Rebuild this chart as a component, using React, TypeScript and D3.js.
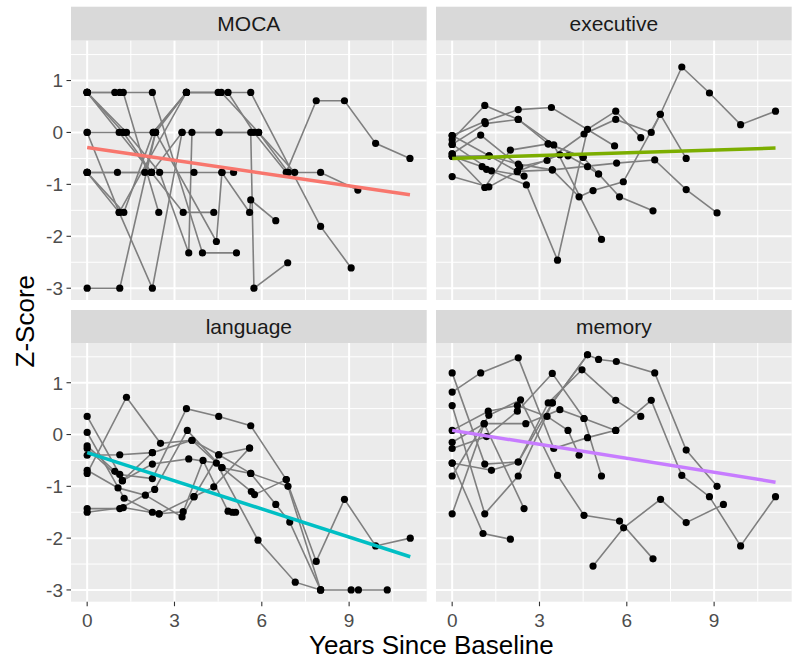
import React from "react";
import * as d3 from "d3";

type Pt = [number, number];

const facets = ["MOCA", "executive", "language", "memory"];
const fitColors = ["#F8766D", "#7CAE00", "#00BFC4", "#C77CFF"];
// fitted line value at first and last visit, per facet
const fitStart = [-0.29, -0.5, -0.35, 0.08];
const fitEnd = [-1.2, -0.3, -2.36, -0.92];
const xTicks = [0, 3, 6, 9];
const yTicks = [-3, -2, -1, 0, 1];

// [years since baseline, z-score] per subject
const mocaSubjects: Pt[][] = [
  [[0, -3], [1.12, -3], [2.35, 0], [3.41, 0.77], [4.5, 0.77], [5.62, 0.77], [8.02, -1.81], [9.07, -2.61]],
  [[0, 0.77], [0.95, 0.77], [1.12, 0.77], [2.24, 0.77], [3.96, -2.32], [5.13, -2.32]],
  [[0, 0.77], [1.1, 0], [2.21, -0.77], [3.3, -1.54], [4.35, -1.54]],
  [[0, 0.77], [1.24, 0.77], [2.46, -1.54]],
  [[0, 0.77], [1.35, 0], [2.49, -0.77], [3.49, -2.32], [3.6, 0], [4.53, 0], [5.62, 0], [5.73, -3], [6.89, -2.51]],
  [[0, 0], [1.1, -1.54], [2.24, -3], [3.26, 0]],
  [[0, -0.77], [1.26, -1.54], [2.27, 0], [3.41, 0.77]],
  [[0, -0.77], [1.04, -0.77], [1.98, -0.77], [2.35, 0], [4.44, -2.1], [4.63, -0.77], [5.03, -0.77]],
  [[0, -0.77], [1.1, -1.54], [3.41, 0.77], [4.61, 0.77], [5.89, 0], [6.91, -0.77], [8.02, -0.77], [9.3, -1.11]],
  [[0, 0], [1.24, 0], [2.27, 0], [3.41, 0.77], [4.84, 0.77], [5.73, 0], [6.84, -0.77], [7.87, 0.61], [8.84, 0.61], [9.91, -0.21], [11.09, -0.5]],
  [[0, -0.77], [2.21, -0.77], [3.67, -0.77], [4.63, -0.77], [5.58, -1.54], [5.62, -1.3], [6.48, -1.7]],
  [[0, 0.77], [1.24, 0], [2.21, -0.77], [3.26, 0], [4.53, 0], [5.89, 0], [7.13, -0.77]],
];

const executiveSubjects: Pt[][] = [
  [[0, -0.06], [1.12, 0.21], [2.27, 0.44], [3.41, 0.48], [5.58, -0.26]],
  [[0, -0.14], [1.12, 0.52], [2.27, 0.25], [3.3, -0.22], [4.5, -0.48]],
  [[0, -0.23], [1.14, 0.17], [2.27, 0.25], [3.49, -0.24], [5.13, -2.06]],
  [[0, -0.41], [0.98, -0.05], [2.32, -0.66], [3.26, -0.54], [4.53, -0.03], [5.62, 0.25], [6.84, 0], [7.15, 0.35], [7.89, 1.26], [8.84, 0.76], [9.91, 0.15], [11.11, 0.41]],
  [[0, -0.46], [1.27, -0.45], [2.27, -0.61], [3.44, -0.72], [5.65, -0.59], [6.96, -0.53], [8.04, -1.1], [9.1, -1.55]],
  [[0, -0.85], [1.26, -1.05], [2.24, -0.75], [3.7, -0.43], [3.98, -0.45], [4.65, -0.66], [5.03, -0.8], [5.75, -1.24], [6.9, -1.51]],
  [[0, -0.46], [1.03, -0.66], [1.18, -0.71], [2.47, -0.84]],
  [[0, -0.41], [1.12, -1.06], [2.0, -0.34], [3.3, -0.22], [4.5, -0.48], [5.03, -0.8]],
  [[0, -0.23], [1.35, -0.74], [2.55, -1.01], [3.62, -2.46], [4.65, 0.06], [5.62, 0.41], [6.48, -0.1]],
  [[0, -0.06], [1.27, -0.45], [2.24, -0.75], [3.44, -0.72], [4.36, -1.24], [4.84, -1.12], [5.88, -0.95], [7.15, 0.35], [8.04, -0.5]],
];

const languageSubjects: Pt[][] = [
  [[0, 0.35], [1.12, -0.77], [2.24, -0.85], [3.41, 0.5], [4.52, 0.35], [5.62, 0.17], [6.84, -0.87], [7.87, -2.45], [8.84, -1.25], [9.91, -2.15], [11.1, -2.0]],
  [[0, 0.04], [1.27, -1.23], [2.24, -1.5], [2.47, -1.53], [3.67, -1.2], [4.52, -0.39], [5.58, -0.26]],
  [[0, -0.4], [1.12, -0.39], [2.24, -0.35]],
  [[0, -0.75], [1.35, 0.72], [2.52, -0.17], [3.6, -0.11], [4.63, -0.64], [5.62, -0.75], [6.48, -1.35], [6.96, -1.69], [8.02, -3], [9.07, -3], [9.32, -3], [10.31, -3]],
  [[0, -0.22], [0.95, -0.71], [1.21, -0.89], [2.24, -0.57], [3.49, -0.47], [4.44, -0.55], [5.87, -2.04], [7.15, -2.85], [8.02, -3]],
  [[0, -1.43], [1.12, -1.43], [2.32, -1.06], [3.44, 0.08], [4.63, -0.64], [5.64, -1.1], [5.75, -1.16], [6.84, -0.87]],
  [[0, -1.5], [1.24, -1.41], [2.47, -1.53], [3.3, -1.49], [3.98, -0.5], [4.84, -1.48], [4.99, -1.5], [5.1, -1.5]],
  [[0, -0.69], [1.06, -1.03], [2.0, -1.17], [3.26, -1.59], [3.67, -1.2], [4.35, -1.01], [5.58, -0.26]],
  [[0, -0.27], [1.21, -0.89], [2.24, -0.35], [3.6, -0.11], [4.52, -0.39], [5.62, -0.75], [6.9, -1.0], [8.02, -3]],
];

const memorySubjects: Pt[][] = [
  [[0, 0.82], [0.98, 1.19], [2.27, 1.48], [3.49, -0.27], [4.65, -0.06], [5.62, 0.08], [6.84, 0.66], [7.89, -0.79], [8.84, -1.2], [9.91, -2.15], [11.11, -1.2]],
  [[0, 1.19], [1.12, -0.57], [2.27, -0.53], [3.3, 0.61], [4.46, 1.25], [5.62, 0.66], [6.48, 0.35]],
  [[0, 0.56], [1.12, -1.53], [2.27, -0.8], [3.44, 0.61], [4.65, 1.54], [5.03, 1.45], [5.64, 1.41], [6.96, 1.19], [8.04, -0.3], [9.1, -1.0]],
  [[0, 0.08], [1.24, 0.45], [2.24, 0.56], [3.26, 0.35], [3.98, 0.08], [4.36, -0.4]],
  [[0, -0.15], [1.1, 0.21], [2.47, -1.43]],
  [[0, -0.27], [1.18, -0.04], [2.24, 0.45], [3.44, 1.18], [4.53, 0.31], [5.13, -0.8]],
  [[0, -0.55], [1.06, -1.91], [2.0, -2.02]],
  [[0, -0.8], [1.26, 0.37], [2.35, 0.67], [3.62, -0.79], [4.53, -1.56], [5.75, -1.67], [6.9, -2.4]],
  [[0, -1.53], [1.1, 0.21], [2.53, 0.21], [3.7, 0.48], [4.53, 0.31], [5.62, 0.08]],
  [[0, -0.55], [1.35, -0.69], [2.27, -0.53], [3.44, 0.61], [4.65, 1.54]],
  [[4.84, -2.54], [5.89, -1.8], [7.16, -1.25], [8.04, -1.7], [9.32, -1.35]],
];

const subjectsByFacet = [mocaSubjects, executiveSubjects, languageSubjects, memorySubjects];

const W = 800;
const H = 659;
const cols = [
  [71, 426.7],
  [436, 791.7],
];
const rows = [
  { strip: 6.7, top: 40.7, bottom: 300 },
  { strip: 310, top: 343, bottom: 601.7 },
];
const FONT = "'Liberation Sans', Arial, Helvetica, sans-serif";

function expand([a, b]: [number, number]): [number, number] {
  const pad = (b - a) * 0.05;
  return [a - pad, b + pad];
}

const allPts = subjectsByFacet.flat(2) as unknown as Pt[];
const xDomain = expand(d3.extent(allPts, (d) => d[0]) as [number, number]);
const yDomain = expand(d3.extent(allPts, (d) => d[1]) as [number, number]);

function Panel({ i }: { i: number }) {
  const col = cols[i % 2];
  const row = rows[Math.floor(i / 2)];
  const x = d3.scaleLinear().domain(xDomain).range(col);
  const y = d3.scaleLinear().domain(yDomain).range([row.bottom, row.top]);
  const line = d3
    .line<Pt>()
    .x((d) => x(d[0]))
    .y((d) => y(d[1]));
  const subjects = subjectsByFacet[i];
  const pts = subjects.flat();
  const fx = d3.extent(pts, (d) => d[0]) as [number, number];
  const fit: Pt[] = [
    [fx[0], fitStart[i]],
    [fx[1], fitEnd[i]],
  ];
  const xMinor = xTicks.map((t) => t + 1.5).filter((t) => t < xDomain[1]);
  const yMinor = [yTicks[0] - 0.5, ...yTicks.map((t) => t + 0.5)].filter(
    (t) => t > yDomain[0] && t < yDomain[1]
  );
  const [x0, x1] = col;
  return (
    <g>
      <rect x={x0} y={row.strip} width={x1 - x0} height={row.top - row.strip} fill="#D9D9D9" />
      <text
        x={(x0 + x1) / 2}
        y={(row.strip + row.top) / 2}
        dy="0.36em"
        textAnchor="middle"
        fontSize={21}
        fill="#1A1A1A"
      >
        {facets[i]}
      </text>
      <rect x={x0} y={row.top} width={x1 - x0} height={row.bottom - row.top} fill="#EBEBEB" />
      {xMinor.map((t) => (
        <line key={"xm" + t} x1={x(t)} x2={x(t)} y1={row.top} y2={row.bottom} stroke="#fff" strokeWidth={1} />
      ))}
      {yMinor.map((t) => (
        <line key={"ym" + t} x1={x0} x2={x1} y1={y(t)} y2={y(t)} stroke="#fff" strokeWidth={1} />
      ))}
      {xTicks.map((t) => (
        <line key={"x" + t} x1={x(t)} x2={x(t)} y1={row.top} y2={row.bottom} stroke="#fff" strokeWidth={2} />
      ))}
      {yTicks.map((t) => (
        <line key={"y" + t} x1={x0} x2={x1} y1={y(t)} y2={y(t)} stroke="#fff" strokeWidth={2} />
      ))}
      {subjects.map((s, k) => (
        <path key={"s" + k} d={line(s) ?? ""} fill="none" stroke="#7F7F7F" strokeWidth={1.6} />
      ))}
      {pts.map((d, k) => (
        <circle key={"p" + k} cx={x(d[0])} cy={y(d[1])} r={3.6} fill="#000" />
      ))}
      <path d={line(fit) ?? ""} fill="none" stroke={fitColors[i]} strokeWidth={3.5} />
      {i % 2 === 0 &&
        yTicks.map((t) => (
          <g key={"yl" + t}>
            <line x1={x0 - 4.5} x2={x0} y1={y(t)} y2={y(t)} stroke="#333" strokeWidth={1.1} />
            <text x={x0 - 8} y={y(t)} dy="0.36em" textAnchor="end" fontSize={19} fill="#4D4D4D">
              {t}
            </text>
          </g>
        ))}
      {i >= 2 &&
        xTicks.map((t) => (
          <g key={"xl" + t}>
            <line x1={x(t)} x2={x(t)} y1={row.bottom} y2={row.bottom + 4.5} stroke="#333" strokeWidth={1.1} />
            <text x={x(t)} y={row.bottom + 25} textAnchor="middle" fontSize={19} fill="#4D4D4D">
              {t}
            </text>
          </g>
        ))}
    </g>
  );
}

export default function App() {
  return (
    <svg
      width={W}
      height={H}
      style={{ position: "absolute", left: 0, top: 0, background: "#fff" }}
      fontFamily={FONT}
    >
      {facets.map((f, i) => (
        <Panel key={f} i={i} />
      ))}
      <text
        transform={`translate(25,${(rows[0].top + rows[1].bottom) / 2}) rotate(-90)`}
        dy="0.36em"
        textAnchor="middle"
        fontSize={26}
        fill="#000"
      >
        Z-Score
      </text>
      <text x={(cols[0][0] + cols[1][1]) / 2} y={654} textAnchor="middle" fontSize={26} fill="#000">
        Years Since Baseline
      </text>
    </svg>
  );
}
